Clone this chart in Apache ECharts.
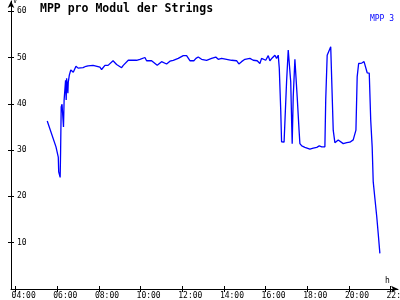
<!DOCTYPE html>
<html>
<head>
<meta charset="utf-8">
<script src="https://cdn.jsdelivr.net/npm/echarts@6/dist/echarts.min.js"></script>
<style>html,body{margin:0;padding:0;background:#fff}#c{width:400px;height:300px}</style>
</head>
<body>
<div id="c"></div>
<script>
// time of day in decimal hours
const hours = [5.52,5.94,6.01,6.05,6.07,6.12,6.14,6.16,6.19,6.23,6.29,6.30,6.33,6.40,6.43,6.45,6.51,6.53,6.58,6.65,
6.71,6.77,6.90,7.00,7.09,7.24,7.38,7.48,7.72,7.91,8.05,8.13,8.29,8.44,8.53,8.68,8.85,9.09,9.17,9.25,
9.41,9.81,9.89,9.97,10.05,10.21,10.29,10.53,10.61,10.80,11.01,11.09,11.25,11.41,11.57,11.65,11.81,11.89,12.05,12.21,
12.29,12.37,12.56,12.66,12.77,12.93,13.17,13.41,13.61,13.73,13.89,14.13,14.37,14.61,14.72,14.85,15.01,15.25,15.41,15.49,
15.60,15.73,15.81,15.89,16.01,16.13,16.21,16.32,16.45,16.53,16.61,16.66,16.73,16.77,16.89,16.98,17.01,17.09,17.17,17.21,
17.26,17.28,17.33,17.41,17.50,17.52,17.61,17.65,17.74,17.89,18.13,18.29,18.46,18.58,18.70,18.77,18.85,18.89,18.96,19.05,
19.13,19.20,19.25,19.33,19.49,19.57,19.73,19.90,20.05,20.21,20.29,20.34,20.40,20.47,20.62,20.73,20.82,20.88,20.98,21.05,
21.12,21.17,21.25,21.34,21.41,21.49];
// MPP 3 voltage (V)
const mpp3 = [36.3,30.7,30.6,28.5,25.3,25.0,24.1,29.3,39.3,39.9,39.7,35.0,40.8,45.1,40.8,45.5,42.3,44.7,46.2,47.3,
47.5,46.8,48.1,47.7,47.5,47.8,48.1,48.2,48.3,48.1,47.9,47.4,48.3,48.3,48.7,49.3,48.5,47.8,48.3,48.6,
49.4,49.4,49.2,49.6,50.0,50.0,49.3,49.3,48.9,48.3,49.1,49.1,48.6,49.2,49.4,49.8,49.8,50.1,50.4,50.4,
50.0,49.3,49.3,49.8,50.1,49.6,49.4,49.8,50.1,49.6,49.8,49.6,49.4,49.3,48.6,49.1,49.6,49.8,49.4,49.8,
49.3,48.7,49.8,50.1,49.4,50.4,49.3,49.9,50.5,49.8,50.5,47.7,38.6,31.8,31.7,31.7,44.7,51.6,51.7,44.7,
35.0,31.4,41.5,49.6,49.8,41.5,34.3,31.4,30.9,30.6,30.2,30.4,30.6,30.9,30.7,30.9,30.7,40.8,50.5,50.9,
52.3,52.4,34.3,31.6,32.2,31.9,31.4,31.6,31.7,32.2,32.1,34.3,45.8,48.7,48.8,49.1,48.7,46.7,46.6,36.5,
30.7,23.2,19.6,15.6,12.0,7.7];
const xTicks = [4,6,8,10,12,14,16,18,20,22];
const yTicks = [10,20,30,40,50,60];
const seriesName = 'MPP 3';
const titleText = 'MPP pro Modul der Strings';

const mono = 'DejaVu Sans Mono';
const chart = echarts.init(document.getElementById('c'), null, {renderer:'canvas'});
const pad = n => (n < 10 ? '0' : '') + n;
const X_MIN = 3.78, X_MAX = 22.36, Y_MIN = 0, Y_MAX = 62.2;
const axisCommon = {
  type: 'value', scale: true, splitLine: {show:false}, axisPointer:{show:false}
};
chart.setOption({
  animation: false,
  backgroundColor: '#ffffff',
  title: {
    text: titleText, left: 40, top: 3, padding: 0,
    textStyle: {fontFamily: mono, fontSize: 11.5, fontWeight: 'bold', color: '#000'}
  },
  legend: {
    right: 6, top: 15, padding: 0, icon: 'none', itemWidth: 0, itemHeight: 8, itemGap: 0,
    data: [seriesName],
    textStyle: {fontFamily: mono, fontSize: 8, color: '#0000ff', padding: [0,0,0,-5]}
  },
  grid: {left: 11, right: 2, top: 1, bottom: 11, containLabel: false, outerBoundsMode: 'none'},
  xAxis: [
    Object.assign({}, axisCommon, {
      min: X_MIN, max: X_MAX, position: 'bottom',
      axisLine: {show: true, lineStyle: {color: '#000', width: 1}, symbol: ['none','arrow'], symbolSize: [5,7]},
      axisTick: {show: true, length: 3, customValues: xTicks, lineStyle: {color:'#000'}},
      axisLabel: {show: true, customValues: xTicks.map(v => v - 0.19), align: 'left', margin: 3,
        fontFamily: mono, fontSize: 8, color: '#000',
        formatter: v => pad(Math.round(v)) + ':00'}
    }),
    Object.assign({}, axisCommon, {
      min: X_MIN, max: X_MAX, position: 'bottom',
      axisLine: {show: false},
      axisTick: {show: true, inside: true, length: 3, customValues: xTicks, lineStyle: {color:'#000'}},
      axisLabel: {show: false}
    })
  ],
  yAxis: [
    Object.assign({}, axisCommon, {
      min: Y_MIN, max: Y_MAX, position: 'left',
      axisLine: {show: true, lineStyle: {color: '#000', width: 1}, symbol: ['none','arrow'], symbolSize: [5,7]},
      axisTick: {show: true, length: 3, customValues: yTicks, lineStyle: {color:'#000'}},
      axisLabel: {show: true, inside: true, customValues: yTicks, margin: 6,
        fontFamily: mono, fontSize: 8, color: '#000'}
    }),
    Object.assign({}, axisCommon, {
      min: Y_MIN, max: Y_MAX, position: 'left',
      axisLine: {show: false},
      axisTick: {show: true, inside: true, length: 3, customValues: yTicks, lineStyle: {color:'#000'}},
      axisLabel: {show: false}
    })
  ],
  graphic: [
    {type: 'text', left: 385, top: 277, style: {text: 'h', font: '8px "DejaVu Sans Mono"', fill: '#000'}},
    {type: 'text', left: 13, top: -2, style: {text: 'V', font: '7px "DejaVu Sans Mono"', fill: '#000'}}
  ],
  series: [{
    name: seriesName, type: 'line', xAxisIndex: 0, yAxisIndex: 0,
    data: hours.map((h, i) => [h, mpp3[i]]),
    showSymbol: false, symbol: 'none', smooth: false,
    lineStyle: {color: '#0000ff', width: 1.3}, itemStyle: {color: '#0000ff'}
  }]
});
</script>
</body>
</html>
